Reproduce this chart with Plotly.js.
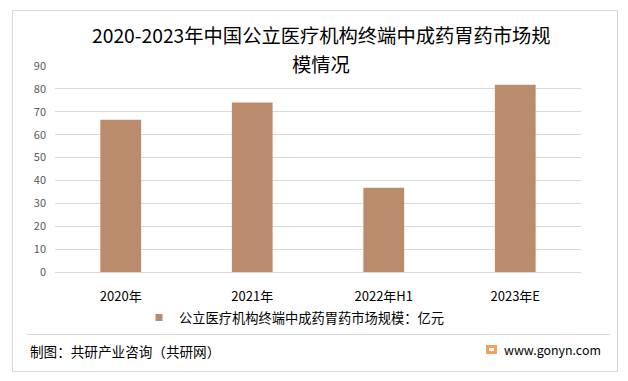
<!DOCTYPE html>
<html>
<head>
<meta charset="utf-8">
<script src="https://cdn.plot.ly/plotly-3.0.1.min.js"></script>
<style>html,body{margin:0;padding:0;background:#fff;}#chart{width:628px;height:381px;}</style>
</head>
<body>
<div id="chart"></div>
<script>
const categories = ["2020年", "2021年", "2022年H1", "2023年E"];
const values = [66.5, 74.0, 36.8, 81.8];
const seriesName = "公立医疗机构终端中成药胃药市场规模：亿元";
const titleLine1 = "2020-2023年中国公立医疗机构终端中成药胃药市场规";
const titleLine2 = "模情况";
const sourceText = "制图：共研产业咨询（共研网）";
const siteText = "www.gonyn.com";
const yTicks = [0, 10, 20, 30, 40, 50, 60, 70, 80, 90];

const W = 628, H = 381;
const M = {l: 55, r: 47, t: 66, b: 109};
const PW = W - M.l - M.r, PH = H - M.t - M.b;
const px = x => (x - M.l) / PW;
const py = y => (H - M.b - y) / PH;

const FONT = "'Noto Sans CJK SC', 'Noto Sans', sans-serif";
const BAR_COLOR = "#BA8C6B";

const barTrace = {
  type: "bar",
  x: categories,
  y: values,
  name: seriesName,
  marker: {color: BAR_COLOR},
  showlegend: false,
  legendgroup: "s"
};

// legend entry only (no drawn point): smaller square key like the reference
const legendTrace = {
  type: "scatter",
  mode: "markers",
  x: [categories[0]],
  y: [null],
  name: seriesName,
  legendgroup: "s",
  showlegend: true,
  marker: {symbol: "square", size: 7, color: BAR_COLOR}
};

const layout = {
  width: W, height: H,
  margin: M,
  paper_bgcolor: "#fff",
  plot_bgcolor: "#fff",
  font: {family: FONT, size: 13, color: "#000"},
  bargap: 0.69,
  showlegend: true,
  legend: {
    orientation: "h",
    x: px(139), xanchor: "left",
    y: py(318), yanchor: "middle",
    itemsizing: "trace",
    font: {family: FONT, size: 13.25, color: "#000"},
    bgcolor: "rgba(0,0,0,0)"
  },
  xaxis: {
    type: "category",
    showgrid: false,
    showline: false,
    zeroline: false,
    ticks: "",
    ticklabelstandoff: 15,
    tickfont: {family: FONT, size: 13, color: "#000"}
  },
  yaxis: {
    range: [0, 90],
    tickvals: yTicks,
    showgrid: true,
    gridcolor: "#D9D9D9",
    gridwidth: 1,
    zeroline: true,
    zerolinecolor: "#D9D9D9",
    zerolinewidth: 1,
    showline: false,
    ticks: "",
    ticklabelstandoff: 8,
    tickfont: {family: FONT, size: 11, color: "#595959"}
  },
  shapes: [
    {type: "rect", xref: "paper", yref: "paper",
     x0: px(12.5), x1: px(617.5), y0: py(371.5), y1: py(10.5),
     line: {color: "#D9D9D9", width: 1}, fillcolor: "rgba(0,0,0,0)", layer: "below"},
    {type: "line", xref: "paper", yref: "paper",
     x0: px(27), x1: px(610), y0: py(334.5), y1: py(334.5),
     line: {color: "#D9D9D9", width: 1}},
    {type: "rect", xref: "paper", yref: "paper",
     x0: px(486), x1: px(497), y0: py(354), y1: py(345),
     line: {width: 0}, fillcolor: "#F5A05A"},
    {type: "rect", xref: "paper", yref: "paper",
     x0: px(489), x1: px(494), y0: py(351), y1: py(348),
     line: {width: 0}, fillcolor: "#FFFFFF"}
  ],
  annotations: [
    {text: titleLine1, xref: "paper", yref: "paper", x: px(321), y: py(35),
     xanchor: "center", yanchor: "middle", showarrow: false,
     font: {family: FONT, size: 19.3, color: "#000"}},
    {text: titleLine2, xref: "paper", yref: "paper", x: px(321), y: py(64),
     xanchor: "center", yanchor: "middle", showarrow: false,
     font: {family: FONT, size: 19.3, color: "#000"}},
    {text: sourceText, xref: "paper", yref: "paper", x: px(28), y: py(351),
     xanchor: "left", yanchor: "middle", showarrow: false,
     font: {family: FONT, size: 13.6, color: "#000"}},
    {text: siteText, xref: "paper", yref: "paper", x: px(502), y: py(350),
     xanchor: "left", yanchor: "middle", showarrow: false,
     font: {family: FONT, size: 12.4, color: "#000"}}
  ]
};

Plotly.newPlot("chart", [barTrace, legendTrace], layout, {displayModeBar: false, staticPlot: true});
</script>
</body>
</html>
